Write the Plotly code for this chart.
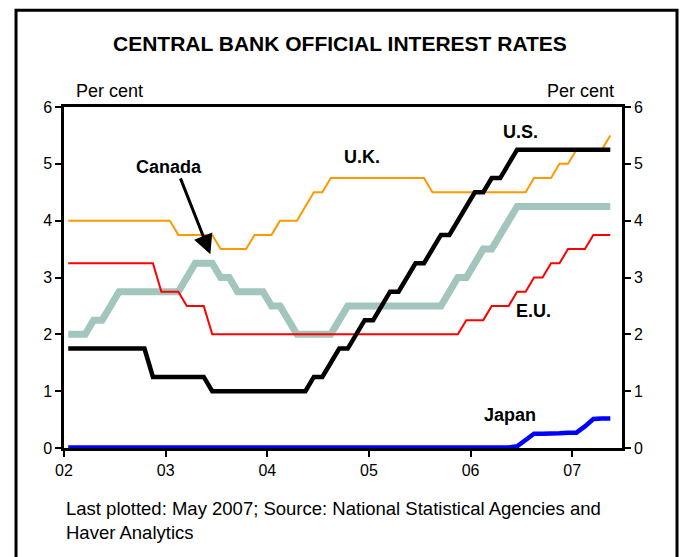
import plotly.graph_objects as go

# Monthly official policy rates, January 2002 to May 2007 (per cent)
us = [
    1.75, 1.75, 1.75, 1.75, 1.75, 1.75, 1.75, 1.75, 1.75, 1.75, 1.25, 1.25,  # 2002
    1.25, 1.25, 1.25, 1.25, 1.25, 1.00, 1.00, 1.00, 1.00, 1.00, 1.00, 1.00,  # 2003
    1.00, 1.00, 1.00, 1.00, 1.00, 1.25, 1.25, 1.50, 1.75, 1.75, 2.00, 2.25,  # 2004
    2.25, 2.50, 2.75, 2.75, 3.00, 3.25, 3.25, 3.50, 3.75, 3.75, 4.00, 4.25,  # 2005
    4.50, 4.50, 4.75, 4.75, 5.00, 5.25, 5.25, 5.25, 5.25, 5.25, 5.25, 5.25,  # 2006
    5.25, 5.25, 5.25, 5.25, 5.25,                                            # 2007
]
uk = [
    4.00, 4.00, 4.00, 4.00, 4.00, 4.00, 4.00, 4.00, 4.00, 4.00, 4.00, 4.00,
    4.00, 3.75, 3.75, 3.75, 3.75, 3.75, 3.50, 3.50, 3.50, 3.50, 3.75, 3.75,
    3.75, 4.00, 4.00, 4.00, 4.25, 4.50, 4.50, 4.75, 4.75, 4.75, 4.75, 4.75,
    4.75, 4.75, 4.75, 4.75, 4.75, 4.75, 4.75, 4.50, 4.50, 4.50, 4.50, 4.50,
    4.50, 4.50, 4.50, 4.50, 4.50, 4.50, 4.50, 4.75, 4.75, 4.75, 5.00, 5.00,
    5.25, 5.25, 5.25, 5.25, 5.50,
]
eu = [
    3.25, 3.25, 3.25, 3.25, 3.25, 3.25, 3.25, 3.25, 3.25, 3.25, 3.25, 2.75,
    2.75, 2.75, 2.50, 2.50, 2.50, 2.00, 2.00, 2.00, 2.00, 2.00, 2.00, 2.00,
    2.00, 2.00, 2.00, 2.00, 2.00, 2.00, 2.00, 2.00, 2.00, 2.00, 2.00, 2.00,
    2.00, 2.00, 2.00, 2.00, 2.00, 2.00, 2.00, 2.00, 2.00, 2.00, 2.00, 2.25,
    2.25, 2.25, 2.50, 2.50, 2.50, 2.75, 2.75, 3.00, 3.00, 3.25, 3.25, 3.50,
    3.50, 3.50, 3.75, 3.75, 3.75,
]
canada = [
    2.00, 2.00, 2.00, 2.25, 2.25, 2.50, 2.75, 2.75, 2.75, 2.75, 2.75, 2.75,
    2.75, 2.75, 3.00, 3.25, 3.25, 3.25, 3.00, 3.00, 2.75, 2.75, 2.75, 2.75,
    2.50, 2.50, 2.25, 2.00, 2.00, 2.00, 2.00, 2.00, 2.25, 2.50, 2.50, 2.50,
    2.50, 2.50, 2.50, 2.50, 2.50, 2.50, 2.50, 2.50, 2.50, 2.75, 3.00, 3.00,
    3.25, 3.50, 3.50, 3.75, 4.00, 4.25, 4.25, 4.25, 4.25, 4.25, 4.25, 4.25,
    4.25, 4.25, 4.25, 4.25, 4.25,
]
japan = [
    0.01, 0.01, 0.01, 0.01, 0.01, 0.01, 0.01, 0.01, 0.01, 0.01, 0.01, 0.01,
    0.01, 0.01, 0.01, 0.01, 0.01, 0.01, 0.01, 0.01, 0.01, 0.01, 0.01, 0.01,
    0.01, 0.01, 0.01, 0.01, 0.01, 0.01, 0.01, 0.01, 0.01, 0.01, 0.01, 0.01,
    0.01, 0.01, 0.01, 0.01, 0.01, 0.01, 0.01, 0.01, 0.01, 0.01, 0.01, 0.01,
    0.01, 0.01, 0.01, 0.01, 0.01, 0.03, 0.15, 0.25, 0.25, 0.25, 0.26, 0.27,
    0.27, 0.38, 0.51, 0.52, 0.52,
]

start_year = 2002
year_ticks = [2002, 2003, 2004, 2005, 2006, 2007]
year_labels = ["02", "03", "04", "05", "06", "07"]
y_ticks = [0, 1, 2, 3, 4, 5, 6]

# Each monthly observation sits at the middle of its month
months = [start_year + (i + 0.5) / 12 for i in range(len(us))]

series = [
    ("Canada", canada, "#A2C5BD", 7),
    ("E.U.", eu, "#FF0000", 2),
    ("U.K.", uk, "#FF9900", 2),
    ("U.S.", us, "#000000", 4.5),
    ("Japan", japan, "#0000FF", 4.5),
]

fig = go.Figure()
for name, vals, color, width in series:
    fig.add_trace(go.Scatter(
        x=months, y=vals, mode="lines", name=name,
        line=dict(color=color, width=width),
        hoverinfo="skip",
    ))
# invisible trace to carry the right-hand axis
fig.add_trace(go.Scatter(x=[months[0]], y=[0], yaxis="y2", mode="lines",
                         line=dict(width=0), showlegend=False, hoverinfo="skip"))

font = "Liberation Sans, Arial, sans-serif"
axis_common = dict(
    range=[0, 6], tickvals=y_ticks, ticks="outside", ticklen=6, tickwidth=2,
    tickcolor="black", showline=True, linecolor="black", linewidth=2.5,
    showgrid=False, zeroline=False, tickfont=dict(family=font, size=16, color="black"),
    fixedrange=True,
)

fig.update_layout(
    width=681, height=557,
    margin=dict(l=64, r=59, t=107, b=109),
    paper_bgcolor="white", plot_bgcolor="white",
    showlegend=False,
    xaxis=dict(
        range=[2002, 2007.49], tickvals=year_ticks, ticktext=year_labels,
        ticks="outside", ticklen=6, tickwidth=2, tickcolor="black",
        showline=True, linecolor="black", linewidth=2.5, mirror=True,
        showgrid=False, zeroline=False,
        tickfont=dict(family=font, size=16, color="black"),
    ),
    yaxis=dict(**axis_common, side="left"),
    yaxis2=dict(**axis_common, side="right", overlaying="y"),
)

label_font = dict(family=font, size=18, color="black")
note_font = dict(family=font, size=18.5, color="black")
bold_font = dict(family=font, size=18, color="black")


def paper_text(text, x, y, fnt, xanchor="center"):
    return dict(text=text, x=x, y=y, xref="paper", yref="paper",
                xanchor=xanchor, yanchor="middle", showarrow=False, font=fnt)


def series_label(text, x, y):
    return dict(text="<b>" + text + "</b>", x=x, y=y, xanchor="center",
                yanchor="middle", showarrow=False, font=bold_font)


annotations = [
    paper_text("<b>CENTRAL BANK OFFICIAL INTEREST RATES</b>", 0.495, 1.185,
               dict(family=font, size=21, color="black")),
    paper_text("Per cent", 0.081, 1.047, label_font),
    paper_text("Per cent", 0.925, 1.047, label_font),
    series_label("U.S.", 2006.49, 5.56),
    series_label("U.K.", 2004.93, 5.12),
    series_label("Canada", 2003.03, 4.94),
    series_label("E.U.", 2006.62, 2.41),
    series_label("Japan", 2006.39, 0.58),
    dict(text="", x=2003.44, y=3.41, ax=2003.14, ay=4.77, axref="x", ayref="y",
         showarrow=True, arrowhead=2, arrowsize=1.3, arrowwidth=3, arrowcolor="black"),
    paper_text("Last plotted: May 2007; Source: National Statistical Agencies and",
               0.0, -0.176, note_font, xanchor="left"),
    paper_text("Haver Analytics", 0.0, -0.249, note_font, xanchor="left"),
]
fig.update_layout(annotations=annotations)

# outer frame around the whole chart
fig.add_shape(type="rect", xref="paper", yref="paper",
              x0=-0.086, x1=1.0986, y0=-0.34, y1=1.284,
              line=dict(color="black", width=3), layer="above")

fig.write_html("out.html")
